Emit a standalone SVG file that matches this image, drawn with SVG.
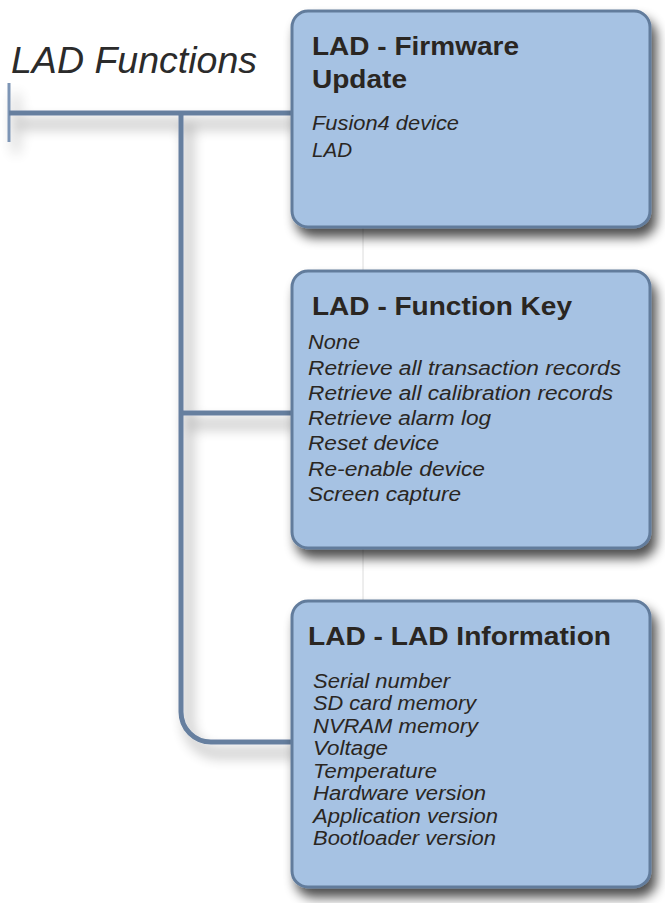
<svg xmlns="http://www.w3.org/2000/svg" width="665" height="903" viewBox="0 0 665 903">
<defs>
<filter id="sh" x="-20%" y="-20%" width="150%" height="150%">
<feGaussianBlur in="SourceAlpha" stdDeviation="6"/>
<feOffset dx="5" dy="9" result="b"/>
<feComponentTransfer><feFuncA type="linear" slope="0.7"/></feComponentTransfer>
<feMerge><feMergeNode/><feMergeNode in="SourceGraphic"/></feMerge>
</filter>
<filter id="lsh" x="-30%" y="-30%" width="160%" height="160%">
<feGaussianBlur in="SourceAlpha" stdDeviation="7"/>
<feOffset dx="7" dy="11" result="b"/>
<feComponentTransfer><feFuncA type="linear" slope="0.45"/></feComponentTransfer>
<feMerge><feMergeNode/><feMergeNode in="SourceGraphic"/></feMerge>
</filter>
</defs>
<style>
.box{fill:#a6c2e3;stroke:#627c9c;stroke-width:3}
.hd{font-family:"Liberation Sans",Arial,sans-serif;font-weight:bold;font-size:25px;fill:#2a2622}
.bd{font-family:"Liberation Sans",Arial,sans-serif;font-style:italic;font-size:20px;fill:#2a2622}
.ttl{font-family:"Liberation Sans",Arial,sans-serif;font-style:italic;font-size:37px;fill:#2b2b2b}
.ln{fill:none;stroke:#667f9f;stroke-width:5}
.faint{stroke:#dcdcdc;stroke-width:1}
</style>
<rect width="665" height="903" fill="#ffffff"/>
<text class="ttl" x="11" y="73" textLength="246" lengthAdjust="spacingAndGlyphs">LAD Functions</text>
<g id="faint">
<line class="faint" x1="363" y1="228" x2="363" y2="270"/>
<line class="faint" x1="363" y1="549" x2="363" y2="600"/>
</g>
<g id="connectors" filter="url(#lsh)">
<line x1="9" y1="83" x2="9" y2="142" stroke="#7d95b5" stroke-width="3"/>
<line class="ln" x1="9" y1="113" x2="292" y2="113"/>
<path class="ln" d="M181 113 V712 A30 30 0 0 0 211 742 H292"/>
<line class="ln" x1="181" y1="413" x2="292" y2="413" stroke-width="4"/>
</g>
<g id="n1">
<rect class="box" x="292" y="11" width="358" height="216" rx="16" filter="url(#sh)"/>
<text class="hd" x="312" y="55" textLength="207" lengthAdjust="spacingAndGlyphs">LAD - Firmware</text>
<text class="hd" x="312" y="88" textLength="95" lengthAdjust="spacingAndGlyphs">Update</text>
<text class="bd" x="312" y="130" textLength="147" lengthAdjust="spacingAndGlyphs">Fusion4 device</text>
<text class="bd" x="312" y="157" textLength="40" lengthAdjust="spacingAndGlyphs">LAD</text>
</g>
<g id="n2">
<rect class="box" x="292" y="271" width="358" height="277" rx="16" filter="url(#sh)"/>
<text class="hd" x="312" y="315" textLength="260" lengthAdjust="spacingAndGlyphs">LAD - Function Key</text>
<text class="bd" x="308" y="349" textLength="52" lengthAdjust="spacingAndGlyphs">None</text>
<text class="bd" x="308" y="375" textLength="313" lengthAdjust="spacingAndGlyphs">Retrieve all transaction records</text>
<text class="bd" x="308" y="400" textLength="305" lengthAdjust="spacingAndGlyphs">Retrieve all calibration records</text>
<text class="bd" x="308" y="425" textLength="183" lengthAdjust="spacingAndGlyphs">Retrieve alarm log</text>
<text class="bd" x="308" y="450" textLength="131" lengthAdjust="spacingAndGlyphs">Reset device</text>
<text class="bd" x="308" y="476" textLength="177" lengthAdjust="spacingAndGlyphs">Re-enable device</text>
<text class="bd" x="308" y="501" textLength="153" lengthAdjust="spacingAndGlyphs">Screen capture</text>
</g>
<g id="n3">
<rect class="box" x="292" y="601" width="358" height="286" rx="16" filter="url(#sh)"/>
<text class="hd" x="308" y="645" textLength="303" lengthAdjust="spacingAndGlyphs">LAD - LAD Information</text>
<text class="bd" x="313" y="688" textLength="137" lengthAdjust="spacingAndGlyphs">Serial number</text>
<text class="bd" x="313" y="710" textLength="163" lengthAdjust="spacingAndGlyphs">SD card memory</text>
<text class="bd" x="313" y="733" textLength="165" lengthAdjust="spacingAndGlyphs">NVRAM memory</text>
<text class="bd" x="313" y="755" textLength="75" lengthAdjust="spacingAndGlyphs">Voltage</text>
<text class="bd" x="313" y="778" textLength="124" lengthAdjust="spacingAndGlyphs">Temperature</text>
<text class="bd" x="313" y="800" textLength="173" lengthAdjust="spacingAndGlyphs">Hardware version</text>
<text class="bd" x="313" y="823" textLength="185" lengthAdjust="spacingAndGlyphs">Application version</text>
<text class="bd" x="313" y="845" textLength="183" lengthAdjust="spacingAndGlyphs">Bootloader version</text>
</g>
</svg>
